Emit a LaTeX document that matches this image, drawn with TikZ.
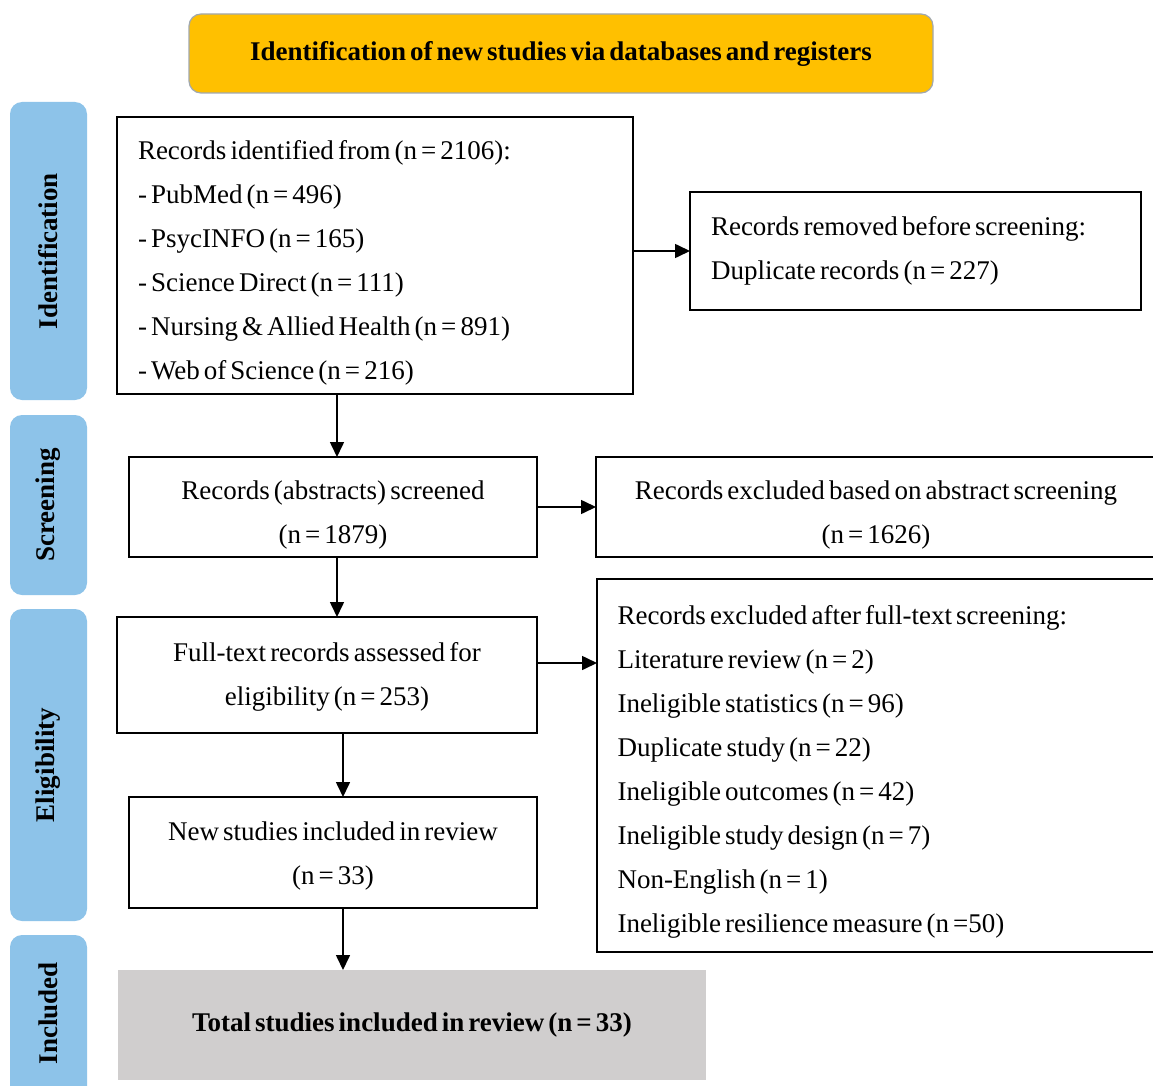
\documentclass[tikz,border=0pt]{standalone}
\usepackage{fontspec}
\setmainfont[WordSpace=0.6]{Liberation Serif}
\usetikzlibrary{arrows.meta}
\definecolor{orangeT}{HTML}{FFC000}
\definecolor{blueS}{HTML}{8DC3E9}
\definecolor{grayT}{HTML}{D0CECE}
\definecolor{borderG}{HTML}{A0A8B0}
\newcommand\tightsp{\leavevmode\spaceskip=0.15em\relax}
\newcommand\liftto[1]{\rule{0pt}{#1pt}}
\begin{document}
\begin{tikzpicture}[x=1pt,y=-1pt,
  every node/.style={font=\fontsize{27}{44}\selectfont, inner sep=0pt, outer sep=0pt},
  box/.style={draw=black, line width=1.6pt, fill=white, anchor=north west},
  sidebox/.style={fill=blueS, rounded corners=12pt, anchor=north west, minimum width=77pt},
  sidetext/.style={rotate=90, font=\fontsize{27}{30}\selectfont\bfseries},
  arr/.style={line width=1.6pt, -{Triangle[length=15pt,width=14pt]}}
]
\useasboundingbox (0,0) rectangle (1153,1086);
\fill[white] (0,0) rectangle (1153,1086);

% title
\node[fill=orangeT, draw=borderG, line width=1.2pt, rounded corners=12pt,
  minimum width=744pt, minimum height=79pt, anchor=north west,
  font=\fontsize{27}{30}\selectfont\bfseries] (title) at (189,14)
  {Identification of new studies via databases and registers};

% side labels
\node[sidebox, minimum height=298pt] (sideI) at (10,102) {};
\node[sidetext] (sideIt) at (sideI.center) {Identification};
\node[sidebox, minimum height=180pt] (sideS) at (10,415) {};
\node[sidetext] (sideSt) at (sideS.center) {Screening};
\node[sidebox, minimum height=312pt] (sideE) at (10,609) {};
\node[sidetext] (sideEt) at (sideE.center) {Eligibility};
\node[sidebox, minimum height=170pt] (sideN) at (10,935) {};
\node[sidetext] (sideNt) at (48,1013) {Included};

% boxes
\node[box, minimum width=516pt, minimum height=277pt, text width=474pt, align=left] (ident) at (117,117)
 {\tightsp\liftto{33}Records identified from (n = 2106):\\
  - PubMed (n = 496)\\
  - PsycINFO (n = 165)\\
  - Science Direct (n = 111)\\
  - Nursing \& Allied Health (n = 891)\\
  - Web of Science (n = 216)};

\node[box, minimum width=451pt, minimum height=118pt, text width=409pt, align=left] (removed) at (690,192)
 {\tightsp Records removed before screening:\\
  Duplicate records (n = 227)};

\node[box, minimum width=408pt, minimum height=100pt, text width=400pt, align=center] (screened) at (129,457)
 {\tightsp\liftto{35}Records (abstracts) screened\\\tightsp(n = 1879)};

\node[box, minimum width=560pt, minimum height=100pt, text width=540pt, align=center] (excl1) at (596,457)
 {\tightsp\liftto{35}Records excluded based on abstract screening\\\tightsp(n = 1626)};

\node[box, minimum width=420pt, minimum height=116pt, text width=400pt, align=center] (fulltext) at (117,617)
 {\tightsp\liftto{22}Full-text records assessed for\\\tightsp eligibility (n = 253)};

\node[box, minimum width=560pt, minimum height=373pt, text width=519pt, align=left] (excl2) at (597,579)
 {\tightsp\liftto{31}Records excluded after full-text screening:\\
  Literature review (n = 2)\\
  Ineligible statistics (n = 96)\\
  Duplicate study (n = 22)\\
  Ineligible outcomes (n = 42)\\
  Ineligible study design (n = 7)\\
  Non-English (n = 1)\\
  Ineligible resilience measure (n =50)};

\node[box, minimum width=408pt, minimum height=111pt, text width=400pt, align=center] (newst) at (129,797)
 {\tightsp\liftto{25}New studies included in review\\\tightsp(n = 33)};

\node[fill=grayT, anchor=north west, minimum width=588pt, minimum height=110pt,
  font=\fontsize{27}{30}\selectfont\bfseries] (total) at (118,970)
 {Total studies included in review (n = 33)};

% connectors
\draw[arr] (ident.east |- removed.west) -- (removed.west);
\draw[arr] ([xshift=4pt]ident.south -| screened.north) -- ([xshift=4pt]screened.north);
\draw[arr] (screened.east) -- (screened.east -| excl1.west);
\draw[arr] ([xshift=4pt]screened.south) -- ([xshift=4pt]screened.south |- fulltext.north);
\draw[arr] ([yshift=12pt]fulltext.east) -- ([yshift=12pt]fulltext.east -| excl2.west);
\draw[arr] ([xshift=10pt]newst.north |- fulltext.south) -- ([xshift=10pt]newst.north);
\draw[arr] ([xshift=10pt]newst.south) -- ([xshift=10pt]newst.south |- total.north);
\end{tikzpicture}
\end{document}
